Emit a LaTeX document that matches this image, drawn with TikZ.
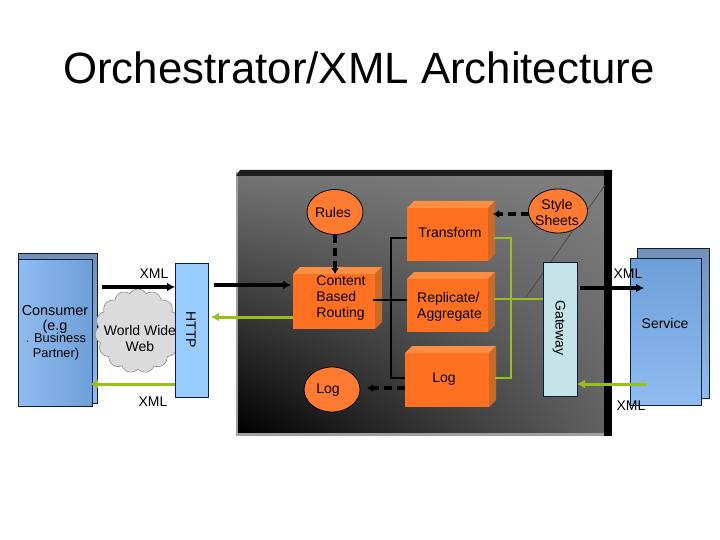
\documentclass[tikz,border=0pt]{standalone}
\usepackage{fontspec}
\setmainfont{Liberation Sans}
\usetikzlibrary{arrows.meta,fit,shapes.geometric,shapes.symbols,calc,shadings}
\definecolor{orgf}{HTML}{FF7020}
\definecolor{orgt}{HTML}{FF8E45}
\definecolor{orgs}{HTML}{C96A2A}
\definecolor{grn}{HTML}{98C01A}
\definecolor{edge}{HTML}{0B1E3C}
\definecolor{blueA}{HTML}{8FBCF0}
\definecolor{blueB}{HTML}{6F9FD8}
\definecolor{blueC}{HTML}{7490B8}
\definecolor{httpc}{HTML}{99CCFF}
\definecolor{gatec}{HTML}{C5E3E8}
\tikzset{
  x=1pt,y=-1pt,
  lab/.style={font=\fontsize{14}{16}\selectfont,text=black,inner sep=0pt,align=center},
  labl/.style={font=\fontsize{14}{16}\selectfont,text=black,inner sep=0pt,align=left},
  face/.style={inner sep=0pt,outer sep=0pt,fill=orgf},
  oval/.style={draw=black,line width=0.8pt,ellipse,fill=orgf!92!white,inner sep=0pt,outer sep=0pt},
  blk/.style={draw=black,line width=3.2pt,-{Latex[length=8pt,width=9pt]}},
  grnline/.style={draw=grn,line width=2.6pt},
  grnarr/.style={draw=grn,line width=3pt,-{Latex[length=8pt,width=9pt]}},
  plain/.style={draw=black,line width=2.6pt},
  dashline/.style={draw=black,line width=3.2pt,dash pattern=on 8pt off 5pt,-{Latex[length=6pt,width=8pt]}},
  sheet/.style={draw=edge,line width=0.9pt,inner sep=0pt,outer sep=0pt},
}
\newcommand{\cuboid}[6]{% name x1 y1 x2 y2 depth
  \fill[orgt] (#2,#3) -- (#2+#6,#3-#6) -- (#4+#6,#3-#6) -- (#4,#3) -- cycle;
  \fill[orgs] (#4,#3) -- (#4+#6,#3-#6) -- (#4+#6,#5-#6) -- (#4,#5) -- cycle;
  \node[face,fit={(#2,#3) (#4,#5)}] (#1) {};
}
\begin{document}
\begin{tikzpicture}
\useasboundingbox (0,0) rectangle (720,540);
\fill[white] (0,0) rectangle (720,540);
\node[font=\fontsize{43.8}{50}\selectfont,text=black,inner sep=0pt,anchor=base] (title) at (359,84) {Orchestrator/XML Architecture};
% panel
\fill[gray!75] (236,172) rectangle (612,436);
\shade[lower left=black,upper right=black!50,upper left=black!55,lower right=black!62,shading=bilinear interpolation] (238,176) rectangle (605,432);
\fill[black!88] (236,176) -- (240,170) -- (612,170) -- (612,176) -- cycle;
\fill[black] (604,170) rectangle (612,436);
\coordinate (diagA) at (605,185);
\coordinate (diagB) at (526,297);
\draw[black!75,line width=0.6pt] (diagA) -- (diagB);
% consumer
\node[sheet,top color=blueC,bottom color=blueA,fit={(18,253) (97,403)}] (consB) {};
\node[sheet,left color=blueA,right color=blueB,fit={(18,259) (92,406)}] (consF) {};
\node[lab,font=\fontsize{14.4}{16}\selectfont] (consT) at (55,319) {Consumer\\[-1pt](e.g};
\node[lab,font=\fontsize{12.8}{15}\selectfont] (consU) at (56,347) {. Business\\Partner)};
% cloud
\node[cloud,draw=black!45,fill=black!14,line width=0.6pt,cloud puffs=15,cloud puff arc=120,aspect=1,inner sep=0pt,minimum width=86pt,minimum height=84pt] (web) at (138,331) {};
\node[lab,align=center] (webT) at (140,338) {World Wide\\Web};
% HTTP
\node[draw=edge,line width=0.9pt,fill=httpc,inner sep=0pt,outer sep=0pt,fit={(175,263) (208,397)}] (http) {};
\node[lab,rotate=-90] (httpT) at (191,330) {HTTP};
% boxes
\cuboid{trans}{407}{208}{488}{261}{7}
\cuboid{cbr}{293}{274}{375}{329}{7}
\cuboid{repl}{407}{279}{488}{332}{7}
\cuboid{logb}{405}{353}{489}{407}{7}
\node[lab] (transT) at (450,233) {Transform};
\node[labl] (cbrT) at (341,298.5) {Content\\Based\\Routing};
\node[labl] (replT) at (449.5,306.5) {Replicate/\\Aggregate};
\node[lab] (logbT) at (444,379.5) {Log};
% ovals
\node[oval,minimum width=56pt,minimum height=45pt] (rules) at (335,212) {};
\node[lab] (rulesT) at (333,212) {Rules};
\node[oval,minimum width=59pt,minimum height=44pt] (style) at (558,211) {};
\node[lab] (styleT) at (557,212) {Style\\Sheets};
\node[oval,minimum width=56pt,minimum height=45pt] (logo) at (332,389.5) {};
\node[lab] (logoT) at (328,390.5) {Log};
% gateway
\node[draw=edge,line width=0.9pt,fill=gatec,inner sep=0pt,outer sep=0pt,fit={(543,262) (577,396)}] (gate) {};
\node[lab,rotate=-90] (gateT) at (559,328) {Gateway};
% service
\node[sheet,top color=blueC,bottom color=blueA,fit={(637,248) (709,398)}] (servB) {};
\node[sheet,top color=blueB,bottom color=blueA,fit={(630,258) (701,405)}] (servF) {};
\node[lab] (servT) at (665,323) {Service};
% connectors
\coordinate (xa) at (102,287);
\draw[blk] (xa) -- (http.west |- xa);
\node[lab] (x1) at (154,274) {XML};
\coordinate (xb) at (214,285);
\draw[blk] (xb) -- ([xshift=-2pt]cbr.west |- xb);
\coordinate (gb) at (291,317);
\draw[grnarr] (cbr.west |- gb) -- ([xshift=3pt]http.east |- gb);
\coordinate (gc) at (175,384);
\draw[grnarr] (http.west |- gc) -- (90,384);
\node[lab] (x2) at (153,402) {XML};
\coordinate (xc) at (580,288);
\coordinate (xcend) at (644,288);
\draw[blk] (xc) -- (xcend);
\node[lab] (x3) at (628,274) {XML};
\coordinate (gd) at (647,384);
\draw[grnarr] (gd) -- (gate.east |- gd);
\node[lab] (x4) at (631,406) {XML};
\coordinate (g1) at (511,238);
\coordinate (g2) at (511,378);
\draw[grnline] ($(trans.east |- g1)+(6,0)$) -- (g1) -- (g2) -- ($(logb.east |- g2)+(6,0)$);
\coordinate (g3) at (511,299);
\draw[grn,line width=2.6pt] ($(repl.east |- g3)+(6,0)$) -- (gate.west |- g3);
\coordinate (b1) at (391,238);
\coordinate (b2) at (391,378);
\draw[plain] (trans.west |- b1) -- (b1) -- (b2) -- (logb.west |- b2);
\coordinate (b3) at (391,300);
\draw[plain] ($(cbr.east |- b3)+(-2,0)$) -- (repl.west |- b3);
\draw[dashline] (rules.south) -- (rules.south |- cbr.north);
\coordinate (d1) at (493,214);
\draw[dashline] (style.west |- d1) -- (d1);
\coordinate (d2) at (367,388);
\draw[dashline] (logb.west |- d2) -- (d2);
\end{tikzpicture}
\end{document}
